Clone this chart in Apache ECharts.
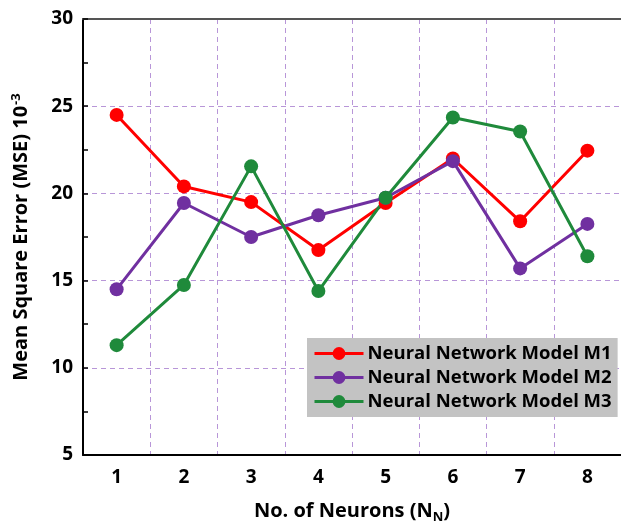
<!DOCTYPE html>
<html>
<head>
<meta charset="utf-8">
<script src="https://cdn.jsdelivr.net/npm/echarts@6/dist/echarts.min.js"></script>
<style>
  html, body { margin: 0; padding: 0; background: #fff; }
  #chart { width: 621px; height: 531px; }
</style>
</head>
<body>
<div id="chart"></div>
<script>
const neurons = ["1", "2", "3", "4", "5", "6", "7", "8"];
const modelM1 = [24.5, 20.4, 19.5, 16.75, 19.45, 22.0, 18.4, 22.45];
const modelM2 = [14.5, 19.45, 17.5, 18.75, 19.75, 21.85, 15.7, 18.25];
const modelM3 = [11.3, 14.75, 21.55, 14.4, 19.75, 24.35, 23.55, 16.4];

const font = "Open Sans";
const chart = echarts.init(document.getElementById("chart"));

const makeSeries = (name, data, color) => ({
  name: name,
  type: "line",
  data: data,
  symbol: "circle",
  symbolSize: 14,
  lineStyle: { color: color, width: 3 },
  itemStyle: { color: color },
  z: 3,
});

chart.setOption({
  animation: false,
  textStyle: { fontFamily: font },
  grid: { left: 83, top: 19, width: 541, bottom: 76 },
  legend: {
    orient: "vertical",
    left: 307,
    top: 338,
    backgroundColor: "#c3c3c3",
    padding: [6, 6, 6, 6],
    itemGap: 5,
    itemWidth: 49,
    itemHeight: 16,
    lineStyle: { width: 3 },
    textStyle: { fontSize: 18.5, fontWeight: "bold", color: "#000", fontFamily: font, padding: [0, 0, 0, -1] },
    data: ["Neural Network Model M1", "Neural Network Model M2", "Neural Network Model M3"],
  },
  xAxis: [
    {
      type: "category",
      data: neurons,
      boundaryGap: true,
      name: "{a|No. of Neurons (N}{s|N}{a|)}",
      nameLocation: "middle",
      nameGap: 44,
      nameTextStyle: {
        rich: {
          a: { fontSize: 20, fontWeight: "bold", color: "#000", fontFamily: font },
          s: { fontSize: 13, fontWeight: "bold", color: "#000", fontFamily: font, verticalAlign: "bottom", padding: [12, 0, 0, 0] },
        },
      },
      axisLine: { lineStyle: { color: "#000", width: 2 } },
      axisTick: { show: false },
      axisLabel: { fontSize: 19, fontWeight: "bold", color: "#000", margin: 13 },
      splitLine: { show: true, lineStyle: { color: "#b896d8", type: [5, 4], width: 1 } },
    },
    {
      type: "category",
      position: "top",
      data: neurons,
      axisLine: { lineStyle: { color: "#555", width: 2 } },
      axisTick: { show: false },
      axisLabel: { show: false },
    },
  ],
  yAxis: {
    type: "value",
    min: 5,
    max: 30,
    interval: 5,
    name: "{a|Mean Square Error (MSE) 10}{s|-3}",
    nameLocation: "middle",
    nameGap: 50,
    nameTextStyle: {
      rich: {
        a: { fontSize: 20, fontWeight: "bold", color: "#000", fontFamily: font },
        s: { fontSize: 13, fontWeight: "bold", color: "#000", fontFamily: font, verticalAlign: "top", padding: [0, 0, 10, 1] },
      },
    },
    axisLine: { show: true, lineStyle: { color: "#000", width: 2 } },
    axisTick: { show: true, inside: true, length: 5, lineStyle: { color: "#000", width: 1.5 } },
    minorTick: { show: true, splitNumber: 2, length: 5, lineStyle: { color: "#000", width: 1.5 } },
    axisLabel: { fontSize: 19, fontWeight: "bold", color: "#000", margin: 10 },
    splitLine: { show: true, lineStyle: { color: "#b896d8", type: [5, 4], width: 1 } },
  },
  series: [
    makeSeries("Neural Network Model M1", modelM1, "#ff0000"),
    makeSeries("Neural Network Model M2", modelM2, "#7030a0"),
    makeSeries("Neural Network Model M3", modelM3, "#1f8a3b"),
  ],
});
</script>
</body>
</html>
